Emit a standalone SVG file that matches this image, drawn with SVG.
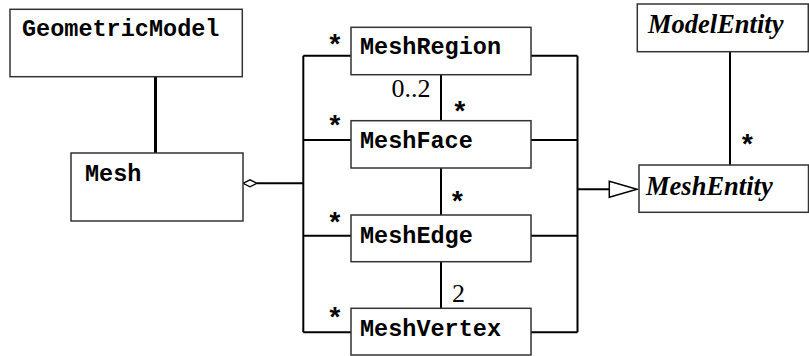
<svg xmlns="http://www.w3.org/2000/svg" width="809" height="356" viewBox="0 0 809 356">
  <style>
    .box { fill: #fff; stroke: #333; stroke-width: 1.5; }
    .ln { fill: none; stroke: #000; stroke-width: 2; }
    .mono { font-family: "Liberation Mono", "Courier New", monospace; font-weight: bold; font-size: 23.5px; fill: #000; }
    .ital { font-family: "Liberation Serif", "Times New Roman", serif; font-weight: bold; font-style: italic; font-size: 26.5px; fill: #000; }
    .mult { font-family: "Liberation Serif", "Times New Roman", serif; font-size: 26px; fill: #000; }
    .star { font-family: "Liberation Mono", "Courier New", monospace; font-weight: bold; font-size: 28px; fill: #000; text-anchor: middle; }
  </style>

  <!-- connectors -->
  <g id="connectors">
    <line x1="155.5" y1="77" x2="155.5" y2="153" stroke="#000" stroke-width="3"/>
    <!-- aggregation from Mesh to the entity bus -->
    <polygon points="243,183.3 250,179.8 257,183.3 250,186.8" fill="#fff" stroke="#000" stroke-width="1.3"/>
    <path class="ln" d="M257,183.3 H303.3"/>
    <!-- left bus -->
    <path class="ln" d="M303.3,55.7 V332.3"/>
    <path class="ln" d="M303.3,55.7 H351 M303.3,140 H351 M303.3,235.7 H351 M303.3,332.3 H351"/>
    <!-- right bus -->
    <path class="ln" d="M531,55.7 H577.5 M531,140 H577.5 M531,235.7 H577.5 M531,332.3 H577.5"/>
    <path class="ln" d="M577.5,55.7 V332.3"/>
    <!-- generalization to MeshEntity -->
    <path class="ln" d="M577.5,189.3 H609.3"/>
    <polygon points="609.3,181.3 609.3,197.3 637,189.3" fill="#fff" stroke="#000" stroke-width="1.5"/>
    <!-- vertical links between mesh entities -->
    <path class="ln" d="M441,74.7 V120.7 M441,168 V215 M441,261.7 V308.3"/>
    <!-- ModelEntity to MeshEntity -->
    <path class="ln" d="M730,51.7 V165"/>

    <!-- multiplicities -->
    <text class="star" x="335" y="54">*</text>
    <text class="star" x="335" y="135">*</text>
    <text class="star" x="335" y="232">*</text>
    <text class="star" x="335" y="327">*</text>
    <text class="star" x="460" y="120.5">*</text>
    <text class="star" x="457.5" y="210.5">*</text>
    <text class="star" x="747.5" y="154">*</text>
    <text class="mult" x="391.5" y="96.7">0..2</text>
    <text class="mult" x="452" y="301.7">2</text>
  </g>

  <g id="GeometricModel">
    <rect class="box" x="10" y="9.3" width="232.3" height="67.4"/>
    <text class="mono" x="22" y="36">GeometricModel</text>
  </g>

  <g id="Mesh">
    <rect class="box" x="71" y="153" width="172" height="68"/>
    <text class="mono" x="85" y="180.7">Mesh</text>
  </g>

  <g id="MeshRegion">
    <rect class="box" x="351" y="27.3" width="180" height="47.4"/>
    <text class="mono" x="360" y="54.3">MeshRegion</text>
  </g>

  <g id="MeshFace">
    <rect class="box" x="351" y="120.7" width="180" height="47.3"/>
    <text class="mono" x="360" y="148.3">MeshFace</text>
  </g>

  <g id="MeshEdge">
    <rect class="box" x="351" y="215" width="180" height="46.7"/>
    <text class="mono" x="360" y="242.7">MeshEdge</text>
  </g>

  <g id="MeshVertex">
    <rect class="box" x="351" y="308.3" width="180" height="46.7"/>
    <text class="mono" x="360" y="336">MeshVertex</text>
  </g>

  <g id="ModelEntity">
    <rect class="box" x="637.3" y="4" width="171" height="47.7"/>
    <text class="ital" x="648" y="33.3">ModelEntity</text>
  </g>

  <g id="MeshEntity">
    <rect class="box" x="639" y="165" width="169.5" height="47.3"/>
    <text class="ital" x="646" y="195">MeshEntity</text>
  </g>
</svg>
